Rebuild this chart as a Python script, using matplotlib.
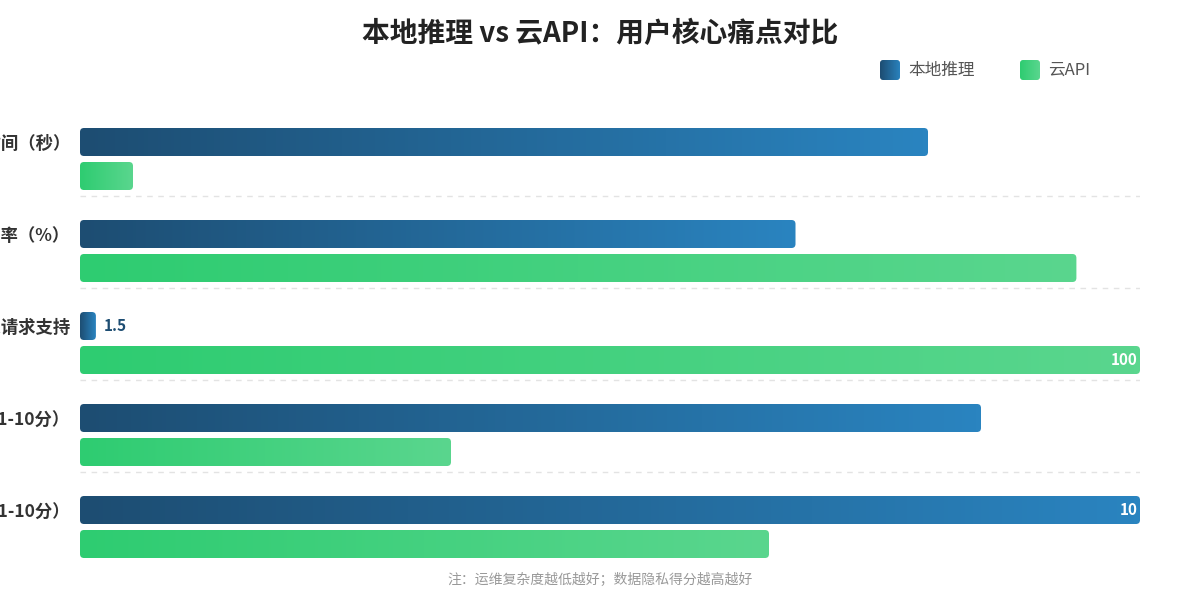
import numpy as np
import matplotlib
matplotlib.use("Agg")
import matplotlib.pyplot as plt
from matplotlib.patches import FancyBboxPatch
from matplotlib.colors import LinearSegmentedColormap

plt.rcParams['font.family'] = ['Noto Sans CJK SC', 'DejaVu Sans']

# 数据
categories = ["平均响应时间（秒）", "推理准确率（%）", "并发请求支持",
              "运维复杂度（1-10分）", "数据隐私得分（1-10分）"]
local_raw = [8.0, 67.5, 1.5, 8.5, 10]
cloud_raw = [0.5, 94, 100, 3.5, 6.5]
scale = [10, 1, 1, 10, 10]     # 换算到 0-100 轴
series_names = ["本地推理", "云API"]
local_colors = ("#1d4d72", "#2a84c0")
cloud_colors = ("#2ecc71", "#5ad68e")

title = "本地推理 vs 云API：用户核心痛点对比"
note = "注：运维复杂度越低越好；数据隐私得分越高越好"

W, H = 1200, 600
fig = plt.figure(figsize=(12, 6), dpi=100)
fig.patch.set_facecolor("white")

# 绘图区（像素定位）
ax_l, ax_r, ax_t, ax_b = 80, 1140, 118, 564
ax = fig.add_axes([ax_l / W, 1 - ax_b / H, (ax_r - ax_l) / W, (ax_b - ax_t) / H])
pitch = 92.0                      # 每组的像素高度
px_x = (ax_r - ax_l) / 100.0      # 每个 x 单位的像素
bar_h = 28 / pitch
off_cloud = 34 / pitch
asp = px_x / pitch


def grad_bar(ax, x0, y0, w, h, c0, c1):
    patch = FancyBboxPatch((x0, y0), w, h,
                           boxstyle="round,pad=0,rounding_size=%f" % (4 / px_x),
                           mutation_aspect=asp, fc="none", ec="none")
    ax.add_patch(patch)
    cmap = LinearSegmentedColormap.from_list("g", [c0, c1])
    im = ax.imshow(np.linspace(0, 1, 256).reshape(1, -1), cmap=cmap,
                   extent=(x0, x0 + w, y0 + h, y0), aspect="auto",
                   interpolation="bicubic", zorder=2)
    im.set_clip_path(patch)


for i in range(len(categories)):
    lv = local_raw[i] * scale[i]
    cv = cloud_raw[i] * scale[i]
    grad_bar(ax, 0, i - bar_h / 2, lv, bar_h, *local_colors)
    grad_bar(ax, 0, i + off_cloud - bar_h / 2, cv, bar_h, *cloud_colors)
    for v, raw, yy, col in [(lv, local_raw[i], i, local_colors[0]),
                            (cv, cloud_raw[i], i + off_cloud, cloud_colors[0])]:
        txt = ("%g" % raw)
        if v >= 95:
            ax.text(v - 2 / px_x, yy, txt, ha="right", va="center", color="white",
                    fontsize=11, fontweight="bold", zorder=3)
        elif v < 3:
            ax.text(v + 8 / px_x, yy, txt, ha="left", va="center", color=col,
                    fontsize=11, fontweight="bold", zorder=3)
    if i < len(categories) - 1:
        ax.axhline(i + 54 / pitch, color="#e3e3e3", lw=1, ls=(0, (4, 4)), zorder=1)

ax.set_xlim(0, 100)
ax.set_ylim(4 + (ax_b - 142 - 4 * pitch) / pitch, -(142 - ax_t) / pitch)
ax.set_yticks(range(len(categories)))
ax.set_yticklabels(categories, fontsize=12.5, fontweight="bold", color="#333333")
ax.tick_params(axis="y", length=0, pad=7)
ax.set_xticks([])
for s in ax.spines.values():
    s.set_visible(False)

# 标题、注释
fig.text(0.5, 1 - 34 / H, title, ha="center", va="center", fontsize=20,
         fontweight="bold", color="#222222")
fig.text(0.5, 1 - 580 / H, note, ha="center", va="center", fontsize=10,
         color="#999999")

# 图例
for (x, name, cols) in [(880, series_names[0], local_colors),
                        (1020, series_names[1], cloud_colors)]:
    lax = fig.add_axes([x / W, 1 - 80 / H, 20 / W, 20 / H])
    lax.set_xlim(0, 1)
    lax.set_ylim(0, 1)
    lax.axis("off")
    p = FancyBboxPatch((0, 0), 1, 1, boxstyle="round,pad=0,rounding_size=0.15",
                       fc="none", ec="none")
    lax.add_patch(p)
    im = lax.imshow(np.linspace(0, 1, 64).reshape(1, -1),
                    cmap=LinearSegmentedColormap.from_list("l", list(cols)),
                    extent=(0, 1, 0, 1), aspect="auto")
    im.set_clip_path(p)
    fig.text((x + 28) / W, 1 - 70 / H, name, ha="left", va="center",
             fontsize=12, color="#555555")

fig.savefig("out.png", dpi=100)
